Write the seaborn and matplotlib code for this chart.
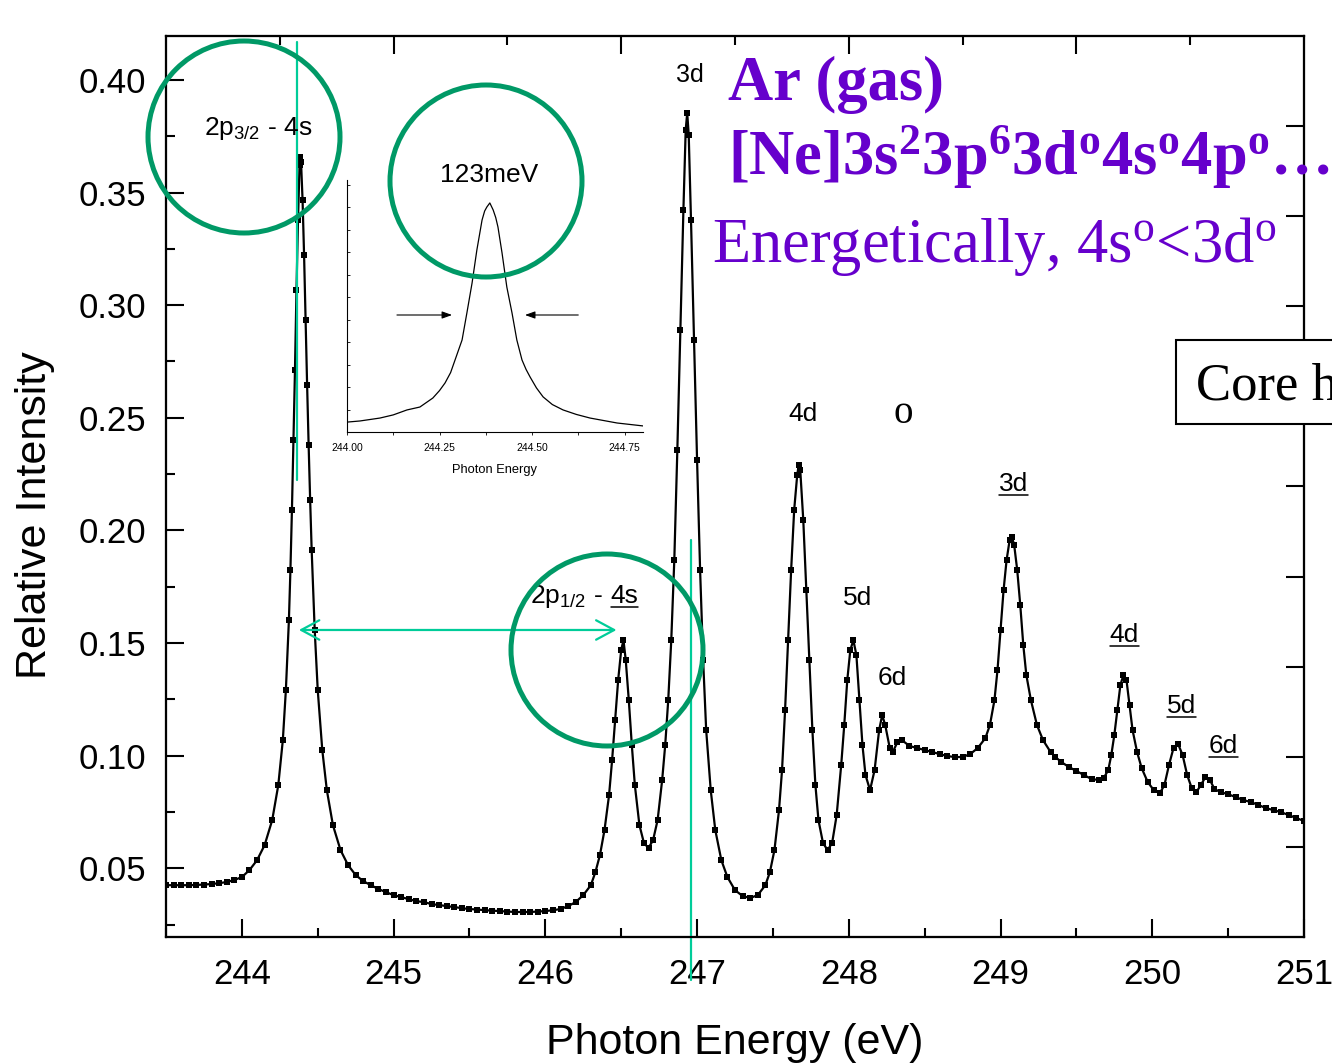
import matplotlib
matplotlib.use("Agg")
import matplotlib.pyplot as plt
import pandas as pd
import seaborn as sns
from matplotlib.patches import Ellipse, Rectangle
from matplotlib.lines import Line2D
from matplotlib.ticker import FixedLocator, MultipleLocator, FormatStrFormatter, NullFormatter

# ---------------- data ----------------
energy = [
    243.50, 243.55, 243.60, 243.65, 243.70, 243.75, 243.80, 243.85, 243.90, 243.95,
    244.00, 244.05, 244.10, 244.15, 244.20, 244.24, 244.27, 244.29, 244.31, 244.32,
    244.33, 244.34, 244.35, 244.36, 244.37, 244.38, 244.385, 244.39, 244.40, 244.41,
    244.42, 244.43, 244.44, 244.45, 244.46, 244.48, 244.50, 244.53, 244.56, 244.60,
    244.65, 244.70, 244.75, 244.80, 244.85, 244.90, 244.95, 245.00, 245.05, 245.10,
    245.15, 245.20, 245.25, 245.30, 245.35, 245.40, 245.45, 245.50, 245.55, 245.60,
    245.65, 245.70, 245.75, 245.80, 245.85, 245.90, 245.95, 246.00, 246.05, 246.10,
    246.15, 246.20, 246.25, 246.30, 246.33, 246.36, 246.39, 246.42, 246.44, 246.46,
    246.48, 246.50, 246.515, 246.53, 246.55, 246.57, 246.59, 246.62, 246.65, 246.68,
    246.71, 246.74, 246.77, 246.79, 246.81, 246.83, 246.85, 246.87, 246.89, 246.91,
    246.925, 246.935, 246.945, 246.96, 246.98, 247.00, 247.02, 247.04, 247.06, 247.09,
    247.12, 247.16, 247.20, 247.25, 247.30, 247.35, 247.40, 247.45, 247.48, 247.51,
    247.54, 247.56, 247.58, 247.60, 247.62, 247.64, 247.66, 247.67, 247.68, 247.70,
    247.72, 247.74, 247.76, 247.78, 247.80, 247.83, 247.86, 247.89, 247.92, 247.95,
    247.97, 247.99, 248.01, 248.03, 248.05, 248.07, 248.09, 248.11, 248.14, 248.17,
    248.20, 248.22, 248.24, 248.27, 248.29, 248.32, 248.35, 248.40, 248.45, 248.50,
    248.55, 248.60, 248.65, 248.70, 248.75, 248.80, 248.85, 248.90, 248.93, 248.96,
    248.98, 249.00, 249.02, 249.04, 249.06, 249.075, 249.09, 249.11, 249.13, 249.15,
    249.17, 249.20, 249.24, 249.28, 249.33, 249.36, 249.40, 249.45, 249.50, 249.55,
    249.60, 249.65, 249.68, 249.71, 249.73, 249.75, 249.77, 249.79, 249.81, 249.83,
    249.85, 249.87, 249.90, 249.93, 249.97, 250.01, 250.05, 250.08, 250.11, 250.14,
    250.17, 250.20, 250.23, 250.26, 250.29, 250.32, 250.35, 250.38, 250.41, 250.45,
    250.50, 250.55, 250.60, 250.65, 250.70, 250.75, 250.80, 250.85, 250.90, 250.95,
    251.00,
]
intensity = [
    0.0425, 0.0425, 0.0425, 0.0425, 0.0426, 0.0428, 0.0430, 0.0434, 0.0439, 0.0448,
    0.0461, 0.0492, 0.0536, 0.0603, 0.0714, 0.0869, 0.1069, 0.1291, 0.1602, 0.1824,
    0.2091, 0.2401, 0.2712, 0.3068, 0.3378, 0.3623, 0.3658, 0.3636, 0.3467, 0.3223,
    0.2934, 0.2646, 0.2379, 0.2135, 0.1913, 0.1558, 0.1291, 0.1025, 0.0847, 0.0692,
    0.0581, 0.0514, 0.0470, 0.0443, 0.0425, 0.0408, 0.0394, 0.0381, 0.0372, 0.0363,
    0.0354, 0.0350, 0.0341, 0.0337, 0.0332, 0.0328, 0.0323, 0.0319, 0.0317, 0.0314,
    0.0312, 0.0310, 0.0308, 0.0306, 0.0306, 0.0306, 0.0308, 0.0310, 0.0314, 0.0319,
    0.0332, 0.0350, 0.0381, 0.0425, 0.0483, 0.0559, 0.0670, 0.0825, 0.0980, 0.1158,
    0.1336, 0.1469, 0.1513, 0.1424, 0.1247, 0.1047, 0.0869, 0.0692, 0.0612, 0.0590,
    0.0625, 0.0714, 0.0892, 0.1047, 0.1247, 0.1513, 0.1869, 0.2357, 0.2890, 0.3423,
    0.3778, 0.3853, 0.3756, 0.3378, 0.2845, 0.2313, 0.1824, 0.1424, 0.1114, 0.0847,
    0.0670, 0.0536, 0.0461, 0.0403, 0.0377, 0.0368, 0.0381, 0.0425, 0.0483, 0.0581,
    0.0758, 0.0936, 0.1202, 0.1513, 0.1824, 0.2091, 0.2246, 0.2290, 0.2268, 0.2046,
    0.1735, 0.1424, 0.1114, 0.0869, 0.0714, 0.0612, 0.0581, 0.0612, 0.0736, 0.0959,
    0.1136, 0.1336, 0.1469, 0.1513, 0.1447, 0.1247, 0.1047, 0.0914, 0.0847, 0.0936,
    0.1114, 0.1180, 0.1136, 0.1034, 0.1016, 0.1060, 0.1069, 0.1043, 0.1034, 0.1025,
    0.1016, 0.1007, 0.0998, 0.0994, 0.0994, 0.1007, 0.1034, 0.1078, 0.1136, 0.1247,
    0.1380, 0.1558, 0.1735, 0.1869, 0.1957, 0.1971, 0.1935, 0.1824, 0.1669, 0.1491,
    0.1358, 0.1247, 0.1136, 0.1069, 0.1016, 0.0995, 0.0972, 0.0950, 0.0932, 0.0914,
    0.0896, 0.0892, 0.0901, 0.0936, 0.1003, 0.1092, 0.1203, 0.1314, 0.1358, 0.1336,
    0.1225, 0.1114, 0.1016, 0.0945, 0.0883, 0.0847, 0.0834, 0.0869, 0.0958, 0.1034,
    0.1052, 0.1003, 0.0914, 0.0856, 0.0838, 0.0869, 0.0905, 0.0892, 0.0852, 0.0838,
    0.0829, 0.0816, 0.0803, 0.0794, 0.0781, 0.0767, 0.0758, 0.0749, 0.0736, 0.0723,
    0.0710,
]

# high-resolution scan of the 2p3/2 - 4s line (arbitrary units)
inset_energy = [
    244.000, 244.035, 244.089, 244.125, 244.162, 244.197, 244.232, 244.250, 244.265,
    244.280, 244.292, 244.311, 244.324, 244.338, 244.351, 244.365, 244.372, 244.378,
    244.386, 244.395, 244.402, 244.408, 244.419, 244.432, 244.446, 244.459, 244.473,
    244.484, 244.495, 244.512, 244.530, 244.555, 244.584, 244.620, 244.657, 244.730,
    244.800,
]
inset_signal = [
    0.044, 0.049, 0.062, 0.076, 0.098, 0.111, 0.151, 0.184, 0.218,
    0.264, 0.320, 0.409, 0.529, 0.662, 0.809, 0.942, 0.982, 1.000,
    1.018, 0.987, 0.953, 0.911, 0.796, 0.644, 0.529, 0.409, 0.320,
    0.278, 0.244, 0.196, 0.156, 0.122, 0.098, 0.078, 0.062, 0.040,
    0.027,
]

x_ticks = [244, 245, 246, 247, 248, 249, 250, 251]
y_ticks = [0.05, 0.10, 0.15, 0.20, 0.25, 0.30, 0.35, 0.40]
top_major = [245.0, 246.5, 248.0, 249.5]
top_minor = [244.25, 245.75, 247.25, 248.75, 250.25]
inset_ticks = [244.00, 244.25, 244.50, 244.75]

# peak assignments: (label, energy, height, underlined)
peak_labels = [
    ("3d", 246.951, 0.3991, False),
    ("4d", 247.696, 0.2486, False),
    ("5d", 248.059, 0.1669, False),
    ("6d", 248.284, 0.1313, False),
    ("3d", 249.083, 0.2175, True),
    ("4d", 249.815, 0.1504, True),
    ("5d", 250.191, 0.1189, True),
    ("6d", 250.469, 0.1011, True),
]

spectrum = pd.DataFrame({"energy": energy, "intensity": intensity})
zoomed = pd.DataFrame({"energy": inset_energy, "signal": inset_signal})

# ---------------- style ----------------
sns.set_style("ticks", {"axes.edgecolor": "black", "xtick.color": "black",
                        "ytick.color": "black", "axes.linewidth": 1.5})
plt.rcParams["font.family"] = ["Liberation Sans", "DejaVu Sans"]
plt.rcParams["text.color"] = "black"
plt.rcParams["axes.labelcolor"] = "black"

W, H = 1332, 1063
fig = plt.figure(figsize=(W / 100, H / 100), dpi=100, facecolor="white")


def fbox(left, top, right, bottom):
    return [left / W, 1 - bottom / H, (right - left) / W, (bottom - top) / H]


def fxy(px, py):
    return px / W, 1 - py / H


LINE_GREEN = "#00CC99"
RING_GREEN = "#009966"
PURPLE = "#6600CC"

ax = fig.add_axes(fbox(166, 36, 1304, 937))
sns.lineplot(data=spectrum, x="energy", y="intensity", ax=ax, color="black",
             linewidth=1.6, marker="s", markersize=4.2, markeredgewidth=0,
             zorder=3)

ax.set_xlim(243.5, 251.0)
ax.set_ylim(0.0195, 0.4195)
ax.xaxis.set_major_locator(FixedLocator(x_ticks))
ax.xaxis.set_minor_locator(MultipleLocator(0.5))
ax.yaxis.set_major_locator(FixedLocator(y_ticks))
ax.yaxis.set_minor_locator(MultipleLocator(0.025))
ax.yaxis.set_major_formatter(FormatStrFormatter("%.2f"))
ax.tick_params(which="major", direction="in", length=13, width=1.5,
               labelsize=25, top=False, right=False)
ax.tick_params(which="minor", direction="in", length=6.5, width=1.5,
               top=False, right=False)
ax.tick_params(axis="x", which="major", pad=15)
ax.tick_params(axis="y", which="major", pad=14)
for s in ax.spines.values():
    s.set_linewidth(1.5)

ax.set_xlabel("Photon Energy (eV)", fontsize=31)
ax.set_ylabel("Relative Intensity", fontsize=31)
ax.xaxis.set_label_coords(0.5, -0.095)
ax.yaxis.set_label_coords(-0.0975, 0.468)

# independent tick scales on the top and right frame edges
ax_top = ax.twiny()
ax_top.set_xlim(ax.get_xlim())
ax_top.xaxis.set_major_locator(FixedLocator(top_major))
ax_top.xaxis.set_minor_locator(FixedLocator(top_minor))
ax_top.xaxis.set_major_formatter(NullFormatter())
ax_top.tick_params(which="major", direction="in", length=13, width=1.5)
ax_top.tick_params(which="minor", direction="in", length=6.5, width=1.5)
ax_top.tick_params(axis="y", left=False, labelleft=False)

ax_right = ax.twinx()
ax_right.set_ylim(0, 10)
ax_right.yaxis.set_major_locator(FixedLocator(range(1, 10)))
ax_right.yaxis.set_major_formatter(NullFormatter())
ax_right.tick_params(which="major", direction="in", length=13, width=1.5)
ax_right.tick_params(axis="x", bottom=False, labelbottom=False)
for a in (ax_top, ax_right):
    for s in a.spines.values():
        s.set_linewidth(1.5)

# green guides: peak markers and the spin-orbit splitting arrow
ax.axvline(244.363, ymin=0.507, ymax=0.993, color=LINE_GREEN, lw=1.6, zorder=4)
ax.axvline(246.957, ymin=-0.048, ymax=0.4406, color=LINE_GREEN, lw=1.6,
           zorder=4, clip_on=False)
ax.annotate("", xy=(246.469, 0.1558), xytext=(244.376, 0.1558),
            arrowprops=dict(arrowstyle="<->,head_length=0.65,head_width=0.35",
                            color=LINE_GREEN, lw=1.6, mutation_scale=20,
                            shrinkA=0, shrinkB=0), zorder=4)

# peak labels
under_labels = []
for text, xe, ye, ul in peak_labels:
    size = 18 if (text == "3d" and not ul) else 19
    t = ax.text(xe, ye, text, fontsize=size, ha="center", va="baseline",
                zorder=6)
    if ul:
        under_labels.append(t)

ax.text(248.356, 0.2477, "o", fontsize=28, family="Liberation Serif",
        ha="center", va="baseline", zorder=6)
ax.text(243.749, 0.3756, r"2p$_{\mathregular{3/2}}$ - 4s", fontsize=19,
        ha="left", va="baseline", zorder=6)
prefix = ax.text(245.901, 0.1678, r"2p$_{\mathregular{1/2}}$ -", fontsize=19,
                 ha="left", va="baseline", zorder=6)
ax.text(245.630, 0.3547, "123meV", fontsize=19, ha="center", va="baseline",
        zorder=6)

renderer = fig.canvas.get_renderer()
bb = prefix.get_window_extent(renderer)
base_disp = ax.transData.transform((245.901, 0.1678))
space_px = 0.278 * 19 * 100 / 72
sx, sy = ax.transData.inverted().transform((bb.x1 + space_px, base_disp[1]))
suffix = ax.text(sx, sy, "4s", fontsize=19, ha="left", va="baseline", zorder=6)
under_labels.append(suffix)

inv = fig.transFigure.inverted()
for t in under_labels:
    e = t.get_window_extent(renderer)
    yb = ax.transData.transform(t.get_position())[1] - 4
    (x0, y0), (x1, y1) = inv.transform([(e.x0, yb), (e.x1, yb)])
    fig.add_artist(Line2D([x0, x1], [y0, y1], color="black", lw=1.1, zorder=6))

# purple header text
serif = ["Liberation Serif", "DejaVu Serif"]
fig.text(*fxy(728, 100), "Ar (gas)", fontsize=45, fontweight="bold",
         family=serif, color=PURPLE, va="baseline", zorder=8)
fig.text(*fxy(728, 175),
         r"$\mathregular{[Ne]3s^{2}3p^{6}3d^{o}4s^{o}4p^{o}}$…",
         fontsize=45, fontweight="bold", family=serif, color=PURPLE,
         va="baseline", zorder=8)
fig.text(*fxy(712, 262),
         r"Energetically, $\mathregular{4s^{o}}$<$\mathregular{3d^{o}}$",
         fontsize=45, family=serif, color=PURPLE, va="baseline", zorder=8)

# framed side note running off the frame
fig.add_artist(Rectangle(fxy(1176, 424), (1500 - 1176) / W, 84 / H,
                         transform=fig.transFigure, facecolor="white",
                         edgecolor="black", lw=1.5, zorder=9))
fig.text(*fxy(1196, 400), "Core h", fontsize=38, family=serif,
         va="baseline", zorder=10)

# inset: high-resolution scan of the first line
ax_in = fig.add_axes(fbox(347, 180, 643, 432))
ax_in.patch.set_alpha(0)
sns.lineplot(data=zoomed, x="energy", y="signal", ax=ax_in, color="black",
             linewidth=0.9)
ax_in.set_xlim(244.0, 244.8)
ax_in.set_ylim(0, 1.12)
sns.despine(ax=ax_in)
for s in ("left", "bottom"):
    ax_in.spines[s].set_linewidth(0.8)
ax_in.xaxis.set_major_locator(FixedLocator(inset_ticks))
ax_in.xaxis.set_major_formatter(FormatStrFormatter("%.2f"))
ax_in.xaxis.set_minor_locator(MultipleLocator(0.125))
ax_in.yaxis.set_major_locator(MultipleLocator(0.1))
ax_in.yaxis.set_major_formatter(NullFormatter())
ax_in.tick_params(axis="x", which="both", direction="out", length=2,
                  width=0.6, labelsize=7.5, pad=6)
ax_in.tick_params(axis="y", which="both", direction="in", length=2, width=0.6)
ax_in.set_xlabel("Photon Energy", fontsize=9.3, labelpad=8)
ax_in.set_ylabel("")
for tail, tip in ((244.135, 244.284), (244.625, 244.481)):
    ax_in.annotate("", xy=(tip, 0.52), xytext=(tail, 0.52),
                   arrowprops=dict(arrowstyle="-|>,head_length=0.5,head_width=0.18",
                                   color="black", lw=0.8, mutation_scale=12,
                                   shrinkA=0, shrinkB=0))

# annotation rings
for cx, cy in ((244, 137), (486, 181), (607, 650)):
    fig.add_artist(Ellipse(fxy(cx, cy), 2 * 96 / W, 2 * 96 / H,
                           transform=fig.transFigure, fill=False,
                           edgecolor=RING_GREEN, lw=3.6, zorder=11))

fig.savefig("out.png", dpi=100, facecolor="white")
